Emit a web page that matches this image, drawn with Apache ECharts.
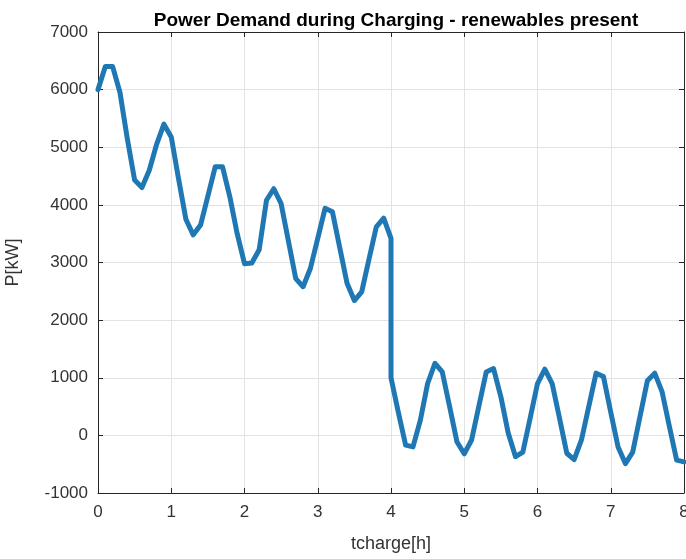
<!DOCTYPE html>
<html>
<head>
<meta charset="utf-8">
<script src="https://cdn.jsdelivr.net/npm/echarts@6/dist/echarts.min.js"></script>
<style>
html,body{margin:0;padding:0;background:#fff;}
#chart{width:686px;height:559px;}
</style>
</head>
<body>
<div id="chart"></div>
<script>
// time in hours (sampled every 0.1 h; 4.0 appears twice for the step drop)
var timeH = [0.0,0.1,0.2,0.3,0.4,0.5,0.6,0.7,0.8,0.9,
             1.0,1.1,1.2,1.3,1.4,1.5,1.6,1.7,1.8,1.9,
             2.0,2.1,2.2,2.3,2.4,2.5,2.6,2.7,2.8,2.9,
             3.0,3.1,3.2,3.3,3.4,3.5,3.6,3.7,3.8,3.9,
             4.0,4.0,4.1,4.2,4.3,4.4,4.5,4.6,4.7,4.8,4.9,
             5.0,5.1,5.2,5.3,5.4,5.5,5.6,5.7,5.8,5.9,
             6.0,6.1,6.2,6.3,6.4,6.5,6.6,6.7,6.8,6.9,
             7.0,7.1,7.2,7.3,7.4,7.5,7.6,7.7,7.8,7.9,8.0];
// power demand in kW
var powerKW = [6000,6400,6400,5950,5150,4430,4300,4600,5050,5400,
               5180,4450,3750,3480,3650,4150,4660,4660,4140,3500,
               2980,2990,3220,4080,4280,4020,3370,2720,2580,2900,
               3420,3940,3880,3260,2640,2340,2490,3060,3620,3770,
               3420,1000,400,-170,-200,260,900,1250,1100,500,-110,
               -320,-80,510,1100,1160,670,40,-370,-290,300,
               900,1150,900,300,-310,-420,-80,500,1080,1020,
               400,-200,-490,-290,330,950,1080,760,160,-430,-460];
var xTicks = [0,1,2,3,4,5,6,7,8];
var yTicks = [-1000,0,1000,2000,3000,4000,5000,6000,7000];

var titleText = 'Power Demand during Charging - renewables present';
var xName = 'tcharge[h]';
var yName = 'P[kW]';

var chart = echarts.init(document.getElementById('chart'), null, {renderer:'canvas'});
var axisCol = '#262626';
var labelCol = '#333333';
var font = 'Liberation Sans, Arial, Helvetica, sans-serif';
var data = timeH.map(function(t,i){return [t, powerKW[i]];});

var baseX = {
  type:'value', min:xTicks[0], max:xTicks[xTicks.length-1], interval:1,
  axisLine:{show:true, onZero:false, lineStyle:{color:axisCol, width:1}},
  axisTick:{show:true, inside:true, length:5, lineStyle:{color:axisCol}},
  splitLine:{show:false}
};
var baseY = {
  type:'value', min:yTicks[0], max:yTicks[yTicks.length-1], interval:1000,
  axisLine:{show:true, onZero:false, lineStyle:{color:axisCol, width:1}},
  axisTick:{show:true, inside:true, length:5, lineStyle:{color:axisCol}},
  splitLine:{show:false}
};

chart.setOption({
  animation:false,
  backgroundColor:'#ffffff',
  title:{
    text:titleText, left:391, textAlign:'center', top:6,
    textStyle:{fontFamily:font, fontSize:19, fontWeight:'bold', color:'#000000'}
  },
  grid:{left:98, right:2, top:32, bottom:66, containLabel:false, outerBoundsMode:'none'},
  xAxis:[
    Object.assign({}, baseX, {
      position:'bottom',
      name:xName, nameLocation:'middle', nameGap:42,
      nameTextStyle:{fontFamily:font, fontSize:18, color:labelCol},
      axisLabel:{show:true, margin:11, fontFamily:font, fontSize:17, color:labelCol},
      splitLine:{show:true, lineStyle:{color:'#e3e3e3', width:1}}
    }),
    Object.assign({}, baseX, {position:'top', axisLabel:{show:false}})
  ],
  yAxis:[
    Object.assign({}, baseY, {
      position:'left',
      name:yName, nameLocation:'middle', nameGap:76, nameRotate:90,
      nameTextStyle:{fontFamily:font, fontSize:18, color:labelCol},
      axisLabel:{show:true, margin:10, fontFamily:font, fontSize:17, color:labelCol,
                 formatter:function(v){return String(v);}},
      splitLine:{show:true, lineStyle:{color:'#e3e3e3', width:1}}
    }),
    Object.assign({}, baseY, {position:'right', axisLabel:{show:false}})
  ],
  series:[{
    type:'line', data:data, xAxisIndex:0, yAxisIndex:0,
    showSymbol:false, symbol:'none', smooth:false,
    lineStyle:{color:'#1f77b4', width:5, join:'round', cap:'round'},
    z:5
  }]
});
</script>
</body>
</html>
